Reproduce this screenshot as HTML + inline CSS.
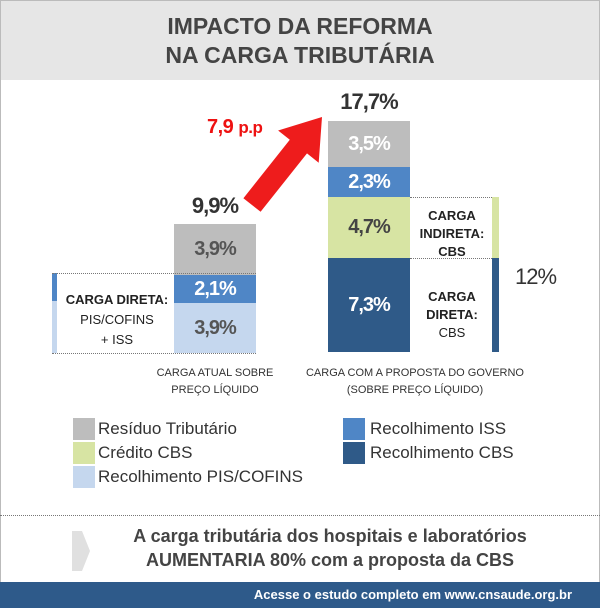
<!DOCTYPE html>
<html><head><meta charset="utf-8"><style>
body{margin:0;width:600px;height:608px;position:relative;background:#fff;font-family:"Liberation Sans",sans-serif;overflow:hidden}
.a{position:absolute}
.bar{position:absolute;display:flex;align-items:center;justify-content:center;font-weight:bold;font-size:20px;letter-spacing:-1px;transform-origin:center}
.sw{position:absolute;width:22px;height:22px}
.lt{position:absolute;font-size:17px;color:#333}
.dot{position:absolute;border-top:1px dotted #777;height:0}
</style></head><body>
<div class="a" style="left:0;top:0;width:598px;height:606px;border:1px solid #bbb"></div>
<div class="a" style="left:1px;top:1px;width:598px;height:79px;background:#e6e6e6"></div>
<div class="a" style="left:0;top:12px;width:600px;text-align:center;font-size:23px;font-weight:bold;color:#444;line-height:29px">IMPACTO DA REFORMA<br>NA CARGA TRIBUTÁRIA</div>

<!-- left bar -->
<div class="bar" style="left:174px;top:224px;width:82px;height:51px;background:#bdbdbd;color:#555">3,9%</div>
<div class="bar" style="left:174px;top:275px;width:82px;height:28px;background:#4f86c6;color:#fff">2,1%</div>
<div class="bar" style="left:174px;top:303px;width:82px;height:50px;background:#c5d7ee;color:#555">3,9%</div>
<div class="a" style="left:52px;top:273px;width:5px;height:28px;background:#4f86c6"></div>
<div class="a" style="left:52px;top:301px;width:5px;height:52px;background:#c5d7ee"></div>
<div class="dot" style="left:52px;top:273px;width:204px"></div>
<div class="dot" style="left:52px;top:353px;width:204px"></div>
<div class="a" style="left:60px;top:290px;width:114px;text-align:center;font-size:13px;color:#222;line-height:20px"><b>CARGA DIRETA:</b><br>PIS/COFINS<br>+ ISS</div>
<div class="a" style="left:174px;top:193px;width:82px;text-align:center;font-size:22px;font-weight:bold;color:#333;letter-spacing:-1px">9,9%</div>

<!-- right bar -->
<div class="bar" style="left:328px;top:121px;width:82px;height:46px;background:#bdbdbd;color:#fff">3,5%</div>
<div class="bar" style="left:328px;top:167px;width:82px;height:30px;background:#4f86c6;color:#fff">2,3%</div>
<div class="bar" style="left:328px;top:197px;width:82px;height:61px;background:#d7e4a3;color:#444">4,7%</div>
<div class="bar" style="left:328px;top:258px;width:82px;height:94px;background:#2f5a88;color:#fff">7,3%</div>
<div class="a" style="left:492px;top:197px;width:7px;height:61px;background:#d7e4a3"></div>
<div class="a" style="left:492px;top:258px;width:7px;height:94px;background:#2f5a88"></div>
<div class="dot" style="left:410px;top:197px;width:82px"></div>
<div class="dot" style="left:410px;top:258px;width:82px"></div>
<div class="a" style="left:412px;top:207px;width:80px;text-align:center;font-size:13px;font-weight:bold;color:#222;line-height:18px">CARGA<br>INDIRETA:<br>CBS</div>
<div class="a" style="left:412px;top:288px;width:80px;text-align:center;font-size:13px;color:#222;line-height:18px"><b>CARGA<br>DIRETA:</b><br>CBS</div>
<div class="a" style="left:328px;top:89px;width:82px;text-align:center;font-size:22px;font-weight:bold;color:#333;letter-spacing:-1px">17,7%</div>
<div class="a" style="left:515px;top:264px;font-size:22px;color:#333;letter-spacing:-1px">12%</div>

<!-- arrow -->
<svg class="a" style="left:0;top:0" width="600" height="400">
<polygon points="260.6,211.8 307,153.4 318.7,162.7 322,117 278.1,130.5 289.8,139.8 243.4,198.2" fill="#ee1c1c"/>
</svg>
<div class="a" style="left:207px;top:116px;font-size:20px;font-weight:bold;color:#e11;letter-spacing:-0.5px">7,9 <span style="font-size:17px">p.p</span></div>

<div class="a" style="left:140px;top:365px;width:150px;text-align:center;font-size:11px;color:#333;line-height:17px">CARGA ATUAL SOBRE<br>PREÇO LÍQUIDO</div>
<div class="a" style="left:300px;top:365px;width:230px;text-align:center;font-size:11px;color:#333;line-height:17px">CARGA COM A PROPOSTA DO GOVERNO<br>(SOBRE PREÇO LÍQUIDO)</div>

<!-- legend -->
<div class="sw" style="left:73px;top:418px;background:#bdbdbd"></div>
<div class="lt" style="left:98px;top:419px">Resíduo Tributário</div>
<div class="sw" style="left:73px;top:442px;background:#d7e4a3"></div>
<div class="lt" style="left:98px;top:443px">Crédito CBS</div>
<div class="sw" style="left:73px;top:466px;background:#c5d7ee"></div>
<div class="lt" style="left:98px;top:467px">Recolhimento PIS/COFINS</div>
<div class="sw" style="left:343px;top:418px;background:#4f86c6"></div>
<div class="lt" style="left:370px;top:419px">Recolhimento ISS</div>
<div class="sw" style="left:343px;top:442px;background:#2f5a88"></div>
<div class="lt" style="left:370px;top:443px">Recolhimento CBS</div>

<div class="dot" style="left:0;top:515px;width:600px"></div>
<svg class="a" style="left:72px;top:527px" width="20" height="48"><polygon points="0,4 10,4 18,24 10,44 0,44" fill="#e0e0e0"/></svg>
<div class="a" style="left:60px;top:524px;width:540px;text-align:center;font-size:18px;font-weight:bold;color:#444;line-height:24px">A carga tributária dos hospitais e laboratórios<br>AUMENTARIA 80% com a proposta da CBS</div>
<div class="a" style="left:0;top:582px;width:600px;height:26px;background:#2e5a8a"></div>
<div class="a" style="left:0;top:587px;width:572px;text-align:right;font-size:13px;font-weight:bold;color:#fff">Acesse o estudo completo em www.cnsaude.org.br</div>
</body></html>
